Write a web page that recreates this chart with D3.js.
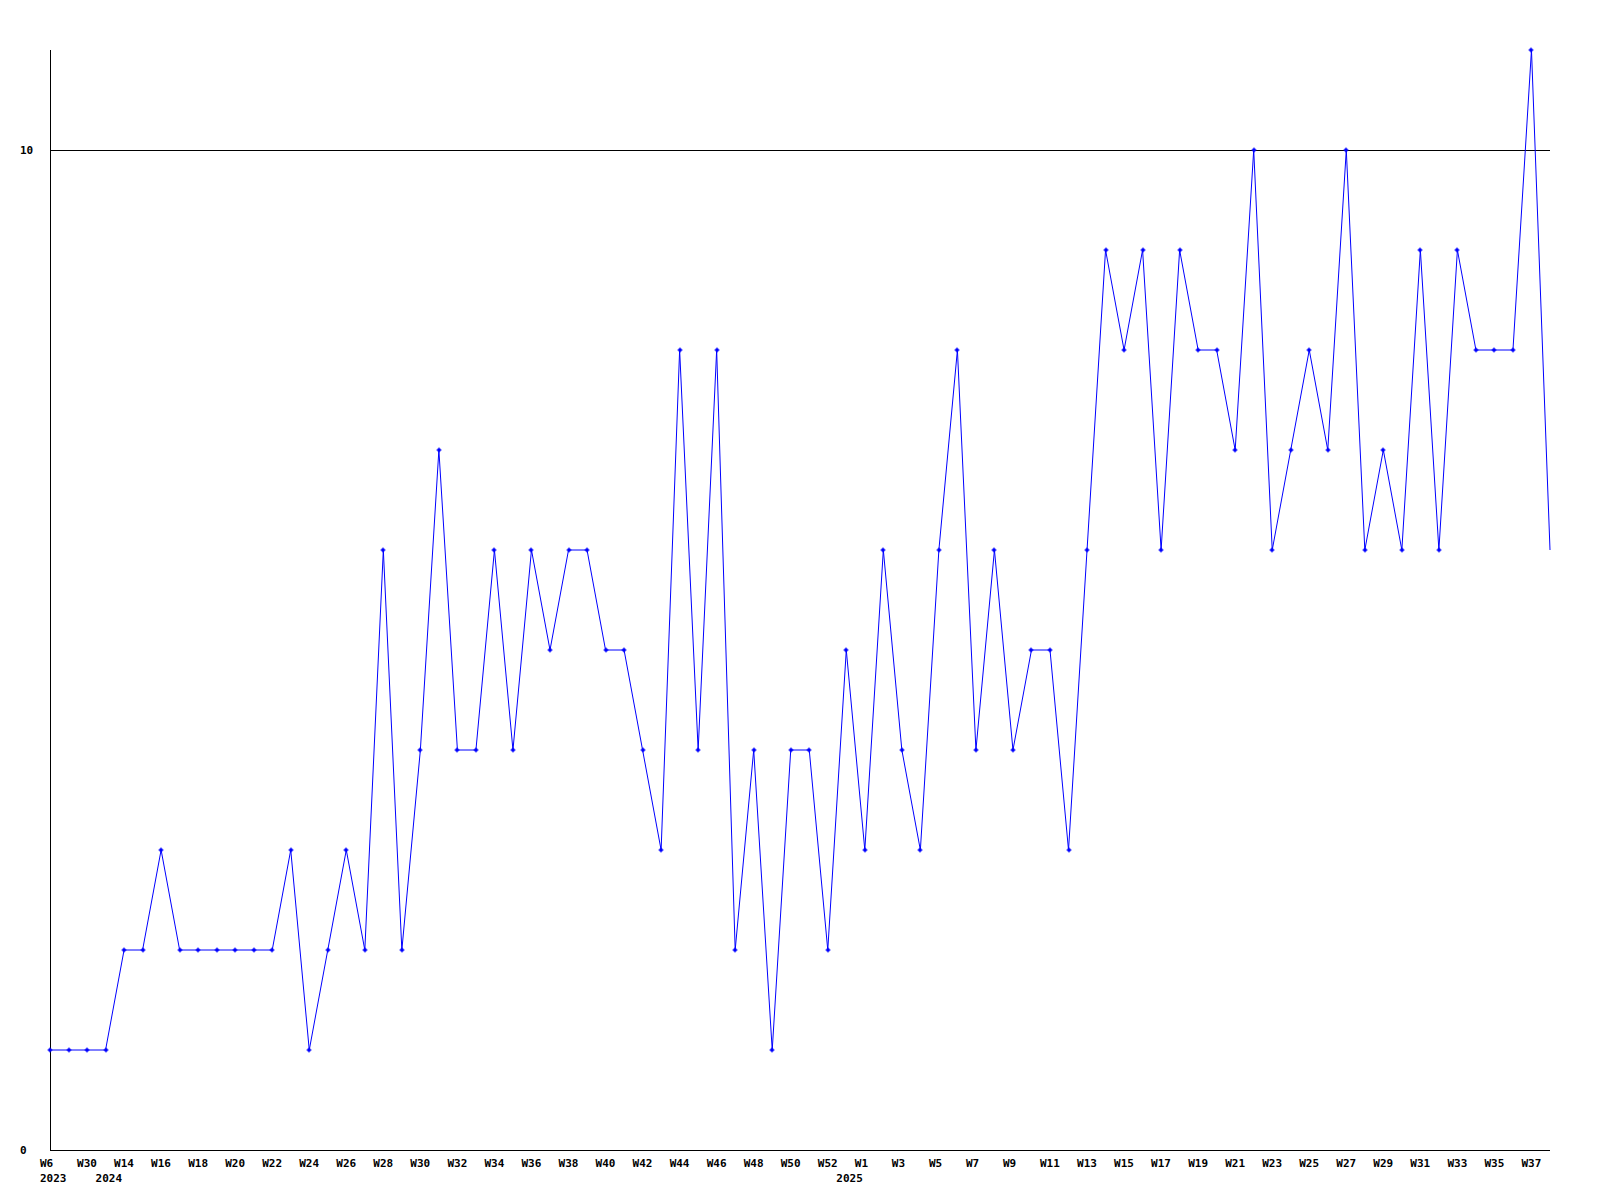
<!DOCTYPE html>
<html lang="en">
<head>
  <meta charset="UTF-8">
  <title>Weekly count</title>
  <script src="https://d3js.org/d3.v7.min.js"></script>
  <style>
    body { margin: 0; background: #fff; }
    svg { display: block; }
    text { font-family: "DejaVu Sans Mono", monospace; font-size: 11px; font-weight: bold; fill: #000; }
  </style>
</head>
<body>
  <div id="chart"></div>
  <script>
    // values per week, one per point (last one runs off the right edge)
    const values = [
      1, 1, 1, 1, 2, 2, 3, 2, 2, 2,
      2, 2, 2, 3, 1, 2, 3, 2, 6, 2,
      4, 7, 4, 4, 6, 4, 6, 5, 6, 6,
      5, 5, 4, 3, 8, 4, 8, 2, 4, 1,
      4, 4, 2, 5, 3, 6, 4, 3, 6, 8,
      4, 6, 4, 5, 5, 3, 6, 9, 8, 9,
      6, 9, 8, 8, 7, 10, 6, 7, 8, 7,
      10, 6, 7, 6, 9, 6, 9, 8, 8, 8,
      11, 6
    ];
    // week labels, every second point
    const weekLabels = [
      "W6", "W30", "W14", "W16", "W18", "W20", "W22", "W24", "W26", "W28",
      "W30", "W32", "W34", "W36", "W38", "W40", "W42", "W44", "W46", "W48",
      "W50", "W52", "W1", "W3", "W5", "W7", "W9", "W11", "W13", "W15",
      "W17", "W19", "W21", "W23", "W25", "W27", "W29", "W31", "W33", "W35",
      "W37"
    ];
    const yearLabels = ["2023", "2024", "2025"];
    const yearIndex = [0, 3, 43];
    const yTicks = [0, 10];

    const width = 1600, height = 1200;
    const plotLeft = 50, plotRight = 1550, plotTop = 50, plotBottom = 1150;

    const svg = d3.select("#chart").append("svg")
      .attr("width", width)
      .attr("height", height);

    const x = d3.scaleLinear().domain([0, values.length - 1]).range([plotLeft, plotRight]);
    const y = d3.scaleLinear().domain([0, 11]).range([plotBottom, plotTop]);

    // gridline at 10
    svg.append("line")
      .attr("x1", plotLeft).attr("x2", plotRight)
      .attr("y1", y(10) + 0.5).attr("y2", y(10) + 0.5)
      .attr("stroke", "#000");

    // axes
    svg.append("line")
      .attr("x1", plotLeft + 0.5).attr("x2", plotLeft + 0.5)
      .attr("y1", plotTop).attr("y2", plotBottom)
      .attr("stroke", "#000");
    svg.append("line")
      .attr("x1", plotLeft).attr("x2", plotRight)
      .attr("y1", plotBottom + 0.5).attr("y2", plotBottom + 0.5)
      .attr("stroke", "#000");

    // y labels
    svg.selectAll(".ylab")
      .data(yTicks)
      .enter().append("text")
      .attr("class", "ylab")
      .attr("x", 20)
      .attr("y", d => y(d) + 4)
      .text(d => d);

    // week labels
    svg.selectAll(".wlab")
      .data(weekLabels)
      .enter().append("text")
      .attr("class", "wlab")
      .attr("x", (d, i) => x(i * 2) - 10)
      .attr("y", 1167)
      .text(d => d);

    // year labels
    svg.selectAll(".yrlab")
      .data(yearLabels)
      .enter().append("text")
      .attr("class", "yrlab")
      .attr("x", (d, i) => x(yearIndex[i]) - 10)
      .attr("y", 1182)
      .text(d => d);

    // data line
    const line = d3.line()
      .x((d, i) => x(i))
      .y(d => y(d));

    svg.append("path")
      .datum(values)
      .attr("fill", "none")
      .attr("stroke", "#0000ff")
      .attr("stroke-width", 1)
      .attr("d", line);

    // markers (not on the last point)
    const marks = svg.selectAll(".mark")
      .data(values.slice(0, -1))
      .enter().append("g")
      .attr("class", "mark")
      .attr("transform", (d, i) => `translate(${Math.round(x(i))},${Math.round(y(d))})`);
    marks.append("rect")
      .attr("x", -1.5).attr("y", -1.5)
      .attr("width", 3).attr("height", 3)
      .attr("fill", "#0000ff");
    marks.append("path")
      .attr("d", "M-2.5,0H2.5M0,-2.5V2.5")
      .attr("stroke", "#0000ff")
      .attr("stroke-width", 1);
  </script>
</body>
</html>
